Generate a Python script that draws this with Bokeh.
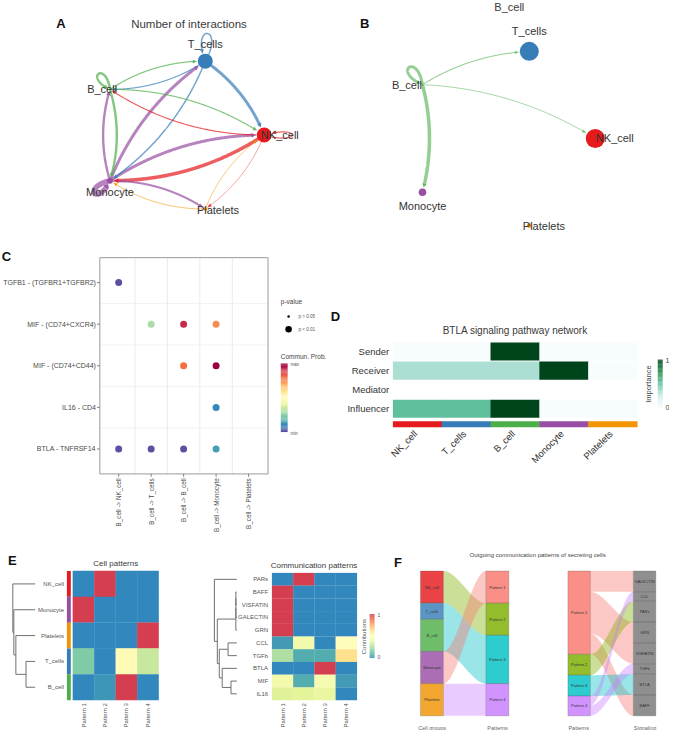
import numpy as np
from bokeh.plotting import figure
from bokeh.models import Range1d, LinearColorMapper, ColumnDataSource
from bokeh.core.properties import value
from bokeh.embed import file_html
from bokeh.resources import INLINE

# ============================ DATA ============================
cells = ["NK_cell", "T_cells", "B_cell", "Monocyte", "Platelets"]
cell_colors = ["#E41A1C", "#377EB8", "#4DAF4A", "#984EA3", "#F29403"]
cell_sizes = [100, 100, 12, 40, 25]

# Panel A - number of interactions (source -> target)
netA_source = ["NK_cell", "NK_cell", "NK_cell", "NK_cell",
               "T_cells", "T_cells", "T_cells", "T_cells",
               "B_cell", "B_cell", "B_cell", "B_cell",
               "Monocyte", "Monocyte", "Monocyte", "Monocyte", "Monocyte",
               "Platelets", "Platelets"]
netA_target = ["NK_cell", "B_cell", "Monocyte", "Platelets",
               "NK_cell", "T_cells", "B_cell", "Monocyte",
               "NK_cell", "T_cells", "B_cell", "Monocyte",
               "NK_cell", "T_cells", "B_cell", "Monocyte", "Platelets",
               "NK_cell", "Monocyte"]
netA_count = [2, 2, 6, 1,
              5, 2.5, 2, 2.5,
              2, 2, 4, 4,
              5, 5, 4, 9, 3.5,
              1.3, 1.5]

# Panel B - B_cell outgoing signaling
netB_source = ["B_cell", "B_cell", "B_cell", "B_cell"]
netB_target = ["T_cells", "NK_cell", "B_cell", "Monocyte"]
netB_strength = [0.3, 0.25, 0.85, 1.0]

# Panel C - bubble plot
lr_pairs = ["TGFB1 - (TGFBR1+TGFBR2)", "MIF - (CD74+CXCR4)", "MIF - (CD74+CD44)",
            "IL16 - CD4", "BTLA - TNFRSF14"]
cell_pairs = ["B_cell -> NK_cell", "B_cell -> T_cells", "B_cell -> B_cell",
              "B_cell -> Monocyte", "B_cell -> Platelets"]
dot_lr = ["TGFB1 - (TGFBR1+TGFBR2)", "MIF - (CD74+CXCR4)", "MIF - (CD74+CXCR4)",
          "MIF - (CD74+CXCR4)", "MIF - (CD74+CD44)", "MIF - (CD74+CD44)", "IL16 - CD4",
          "BTLA - TNFRSF14", "BTLA - TNFRSF14", "BTLA - TNFRSF14", "BTLA - TNFRSF14"]
dot_pair = ["B_cell -> NK_cell", "B_cell -> T_cells", "B_cell -> B_cell",
            "B_cell -> Monocyte", "B_cell -> B_cell", "B_cell -> Monocyte", "B_cell -> Monocyte",
            "B_cell -> NK_cell", "B_cell -> T_cells", "B_cell -> B_cell", "B_cell -> Monocyte"]
dot_prob = [0.0, 0.3, 0.93, 0.75, 0.8, 1.0, 0.1, 0.0, 0.0, 0.0, 0.14]

# Panel D - signaling roles (BTLA)
roles = ["Sender", "Receiver", "Mediator", "Influencer"]
sender_imp = [0.0, 0.0, 1.0, 0.0, 0.0]
receiver_imp = [0.33, 0.33, 0.33, 1.0, 0.0]
mediator_imp = [float("nan")] * 5
influencer_imp = [0.52, 0.52, 1.0, 0.0, 0.0]

# Panel E - patterns
pattern_names = ["Pattern 1", "Pattern 2", "Pattern 3", "Pattern 4"]
cellpat_rows = ["NK_cell", "Monocyte", "Platelets", "T_cells", "B_cell"]
cellpat_values = [[0.0, 1.0, 0.0, 0.0],
                  [1.0, 0.0, 0.0, 0.0],
                  [0.0, 0.0, 0.0, 1.0],
                  [0.17, 0.0, 0.52, 0.31],
                  [0.0, 0.03, 1.0, 0.0]]
cellpat_dendro = [(3, 4, 0.36), (2, 5, 0.76), (1, 6, 0.84), (0, 7, 0.88)]
commpat_rows = ["PARs", "BAFF", "VISFATIN", "GALECTIN", "GRN", "CCL", "TGFb", "BTLA", "MIF", "IL16"]
commpat_values = [[0.0, 1.0, 0.0, 0.0],
                  [1.0, 0.0, 0.0, 0.0],
                  [1.0, 0.0, 0.0, 0.0],
                  [1.0, 0.0, 0.0, 0.0],
                  [1.0, 0.0, 0.0, 0.0],
                  [0.04, 0.44, 0.0, 0.51],
                  [0.26, 0.08, 0.08, 0.62],
                  [0.0, 0.0, 1.0, 0.0],
                  [0.44, 0.08, 0.45, 0.04],
                  [0.36, 0.37, 0.4, 0.0]]
commpat_dendro = [(1, 2, 0.04), (10, 3, 0.04), (11, 4, 0.04), (8, 9, 0.24), (5, 6, 0.36),
                  (7, 13, 0.6), (14, 15, 0.72), (12, 16, 0.8), (0, 17, 0.92)]

# Panel F - river plots
pattern_colors = ["#F8766D", "#7CAE00", "#00BFC4", "#C77CFF"]
riverL_src = ["NK_cell", "T_cells", "B_cell", "Monocyte", "Platelets"]
riverL_tgt = ["Pattern 2", "Pattern 3", "Pattern 3", "Pattern 1", "Pattern 4"]
riverL_w = [1.0, 0.5, 1.0, 1.0, 1.0]
signaling = ["GALECTIN", "CCL", "PARs", "GRN", "VISFATIN", "TGFb", "BTLA", "BAFF"]
riverR_src = ["Pattern 1", "Pattern 1", "Pattern 1", "Pattern 1", "Pattern 2",
              "Pattern 3", "Pattern 4", "Pattern 4"]
riverR_tgt = ["GALECTIN", "GRN", "VISFATIN", "BAFF", "PARs", "BTLA", "CCL", "TGFb"]
riverR_w = [1.0, 1.0, 1.0, 1.0, 1.0, 1.0, 0.45, 0.5]

# ============================ SETUP ============================
FONT = "Liberation Sans"
TXT = "#444444"
W, H = 685, 746
p = figure(width=669, height=730, x_range=Range1d(0, W), y_range=Range1d(H, 0),
           x_axis_location=None, y_axis_location=None, output_backend="svg",
           toolbar_location=None, min_border=0)
p.grid.visible = False
p.outline_line_color = None
p.background_fill_color = "white"
p.border_fill_color = "white"


def label(x, y, s, size, color=TXT, align="center", baseline="middle", angle=0.0, bold=False):
    p.text(x=[x], y=[y], text=[s], angle=angle, text_font=value(FONT),
           text_font_size=f"{size}px", text_color=color, text_align=align,
           text_baseline=baseline, text_font_style="bold" if bold else "normal")


def interp_palette(stops, n=256):
    cols = np.array([[int(s[i:i + 2], 16) for i in (1, 3, 5)] for s in stops], float)
    pos = np.linspace(0, 1, len(stops))
    out = []
    for tt in np.linspace(0, 1, n):
        rgb = [int(round(np.interp(tt, pos, cols[:, k]))) for k in range(3)]
        out.append("#%02x%02x%02x" % tuple(rgb))
    return out


spectral9 = ["#3288BD", "#66C2A5", "#ABDDA4", "#E6F598", "#FFFFBF", "#FEE08B", "#FDAE61", "#F46D43", "#D53E4F"]
spectral11 = ["#5E4FA2", "#3288BD", "#66C2A5", "#ABDDA4", "#E6F598", "#FFFFBF", "#FEE08B",
              "#FDAE61", "#F46D43", "#D53E4F", "#9E0142"]
bugn = ["#F7FCFD", "#E5F5F9", "#CCECE6", "#99D8C9", "#66C2A4", "#41AE76", "#238B45", "#006D2C", "#00441B"]
map_E = LinearColorMapper(palette=interp_palette(spectral9), low=0, high=1)
map_C = LinearColorMapper(palette=interp_palette(spectral11), low=0, high=1)
map_D = LinearColorMapper(palette=interp_palette(bugn), low=0, high=1, nan_color="#FFFFFF")


def colorbar(x0, x1, ytop, ybot, mapper, n=60):
    v = np.linspace(0, 1, n)
    hh = (ybot - ytop) / n
    ys = ybot - (np.arange(n) + 0.5) * hh
    src = ColumnDataSource(dict(x=[(x0 + x1) / 2] * n, y=ys, v=v))
    p.rect(x="x", y="y", width=x1 - x0, height=hh * 1.05, source=src,
           fill_color=dict(field="v", transform=mapper), line_color=None)


# ============================ NETWORKS (A, B) ============================
angles = {c: np.deg2rad(72 * i) for i, c in enumerate(cells)}


def bez_q(P, Q, k, n=240):
    d = Q - P
    C = (P + Q) / 2 + k * np.array([d[1], -d[0]])
    t = np.linspace(0, 1, n)[:, None]
    return (1 - t) ** 2 * P + 2 * (1 - t) * t * C + t ** 2 * Q


def bez_loop(P, u, L, a, n=240):
    def rot(v, th):
        return np.array([v[0] * np.cos(th) - v[1] * np.sin(th), v[0] * np.sin(th) + v[1] * np.cos(th)])
    c1 = P + L * rot(u, a)
    c2 = P + L * rot(u, -a)
    t = np.linspace(0, 1, n)[:, None]
    return (1 - t) ** 3 * P + 3 * (1 - t) ** 2 * t * c1 + 3 * (1 - t) * t ** 2 * c2 + t ** 3 * P


def draw_network(src, tgt, wts, cx, cy, sx, sy, size_max, wscale, k, loops, alen, aw, offs, alpha):
    pos = {c: np.array([cx + sx * np.cos(angles[c]), cy - sy * np.sin(angles[c])]) for c in cells}
    mx = max(cell_sizes)
    diam = {c: max(2.0, size_max * s / mx) for c, s in zip(cells, cell_sizes)}
    xs, ys, cols, lws, axs, ays, acols = [], [], [], [], [], [], []
    order = np.argsort(wts)[::-1]
    for i in order:
        s, t, w = src[i], tgt[i], wts[i]
        col = cell_colors[cells.index(s)]
        lw = w * wscale
        P, Q = pos[s], pos[t]
        if s == t:
            L, a, tilt = loops[s]
            base_ang = angles[s] + tilt
            u = np.array([np.cos(base_ang) * sx, -np.sin(base_ang) * sy])
            u = u / np.hypot(*u)
            pts = bez_loop(P, u, L, a)
        else:
            pts = bez_q(P, Q, k)
        dS = np.hypot(*(pts - P).T)
        dT = np.hypot(*(pts - Q).T)
        rs, rt = diam[s] / 2 + 0.5, diam[t] / 2 + 0.5
        idx = np.arange(len(pts))
        half = len(pts) // 2
        m_tip = (dT >= rt) & (idx > half)
        i_tip = idx[m_tip][-1] if np.any(m_tip) else len(pts) - 1
        mask_b = (dT >= rt + alen) & (idx > half // 2)
        i_base = idx[mask_b][-1] if np.any(mask_b) else i_tip - 3
        keep = ((dS >= rs) | (idx > half)) & (idx <= i_base)
        xs.append(list(pts[keep, 0]))
        ys.append(list(pts[keep, 1]))
        cols.append(col)
        lws.append(lw)
        tip, base = pts[i_tip], pts[i_base]
        dvec = tip - base
        dvec = dvec / (np.hypot(*dvec) + 1e-9)
        perp = np.array([-dvec[1], dvec[0]])
        a_w = aw + lw * 0.5
        tri = [tip, base + perp * a_w / 2, base - perp * a_w / 2]
        axs.append([q[0] for q in tri])
        ays.append([q[1] for q in tri])
        acols.append(col)
    p.multi_line(xs="xs", ys="ys", line_color="c", line_width="w", line_alpha=alpha,
                 line_cap="round", source=ColumnDataSource(dict(xs=xs, ys=ys, c=cols, w=lws)))
    p.patches(xs="xs", ys="ys", fill_color="c", fill_alpha=min(1, alpha + 0.15), line_color=None,
              source=ColumnDataSource(dict(xs=axs, ys=ays, c=acols)))
    p.scatter(x=[pos[c][0] for c in cells], y=[pos[c][1] for c in cells],
              size=[diam[c] for c in cells], fill_color=cell_colors, line_color=None)
    for c in cells:
        label(pos[c][0] + offs[c][0], pos[c][1] + offs[c][1], c, 11, color="#333333")


# Panel A
label(62, 23, "A", 13, color="#111111", bold=True)
label(193, 24, "Number of interactions", 11.5, color="#3a3a3a")
draw_network(netA_source, netA_target, netA_count, 182.7, 137.5, 87.3, 79.4, 15, 0.6, 0.15,
             {"NK_cell": (40, 0.28, 0.0), "T_cells": (42, 0.45, 0.25), "B_cell": (30, 0.5, -0.35),
              "Monocyte": (30, 0.45, 0.1), "Platelets": (20, 0.5, 0.0)},
             4.5, 3.2,
             {"NK_cell": (16, 0), "T_cells": (0, -18), "B_cell": (-8, 0), "Monocyte": (0, 12), "Platelets": (13, 1)},
             0.7)

# Panel B
label(373, 23, "B", 13, color="#111111", bold=True)
label(521, 7, "B_cell", 11, color="#3a3a3a")
draw_network(netB_source, netB_target, netB_strength, 511.2, 141, 97.8, 93.6, 19, 3.5, 0.13,
             {"NK_cell": (30, 0.5, 0.0), "T_cells": (30, 0.5, 0.0), "B_cell": (34, 0.5, -0.3),
              "Monocyte": (24, 0.5, 0.0), "Platelets": (20, 0.5, 0.0)},
             4.5, 2.6,
             {"NK_cell": (20, 0), "T_cells": (0, -21), "B_cell": (-16, 0), "Monocyte": (0, 14), "Platelets": (15, 0)},
             0.6)

# ============================ PANEL C ============================
label(6, 262, "C", 13, color="#111111", bold=True)
cx0, cdx = 121.0, 33.25
cy0, cdy = 288.3, 42.5
bx0, bx1 = cx0 - 0.58 * cdx, cx0 + (len(cell_pairs) - 1 + 0.6) * cdx
by0, by1 = cy0 - 0.6 * cdy, cy0 + (len(lr_pairs) - 1 + 0.6) * cdy
gxs = [[cx0 + (i + 0.5) * cdx] * 2 for i in range(len(cell_pairs) - 1)]
p.multi_line(xs=gxs, ys=[[by0, by1]] * len(gxs), line_color="#E3E3E3", line_width=0.7)
gys = [[cy0 + (j + 0.5) * cdy] * 2 for j in range(len(lr_pairs) - 1)]
p.multi_line(xs=[[bx0, bx1]] * len(gys), ys=gys, line_color="#ECECEC", line_width=0.7)
p.quad(left=[bx0], right=[bx1], top=[by0], bottom=[by1], fill_color=None, line_color="#9A9A9A", line_width=1)
p.multi_line(xs=[[bx0 - 3, bx0]] * len(lr_pairs), ys=[[cy0 + j * cdy] * 2 for j in range(len(lr_pairs))],
             line_color="#555555", line_width=0.7)
p.multi_line(xs=[[cx0 + i * cdx] * 2 for i in range(len(cell_pairs))], ys=[[by1, by1 + 3]] * len(cell_pairs),
             line_color="#555555", line_width=0.7)
for j, lr in enumerate(lr_pairs):
    label(bx0 - 4, cy0 + j * cdy, lr, 7, color="#4a4a4a", align="right")
for i, cp in enumerate(cell_pairs):
    label(cx0 + i * cdx, by1 + 4.5, cp, 6.3, color="#4a4a4a", align="right", angle=np.pi / 2)
dsrc = ColumnDataSource(dict(
    x=[cx0 + cell_pairs.index(c) * cdx for c in dot_pair],
    y=[cy0 + lr_pairs.index(l) * cdy for l in dot_lr],
    v=dot_prob))
p.scatter(x="x", y="y", size=7, source=dsrc, fill_color=dict(field="v", transform=map_C), line_color=None)
label(287, 308, "p-value", 6.5, color="#444444", align="left")
p.scatter(x=[295, 295], y=[323, 336], size=[2.5, 6.5], fill_color="black", line_color=None)
label(305, 323, "p > 0.05", 4.6, color="#555555", align="left")
label(305, 336, "p < 0.01", 4.6, color="#555555", align="left")
label(287, 364, "Commun. Prob.", 6.5, color="#444444", align="left")
colorbar(287, 294, 371, 441, map_C)
label(297, 372, "max", 4.5, color="#555555", align="left")
label(297, 442, "min", 4.5, color="#555555", align="left")

# ============================ PANEL D ============================
label(343, 323, "D", 13, color="#111111", bold=True)
label(527, 337, "BTLA signaling pathway network", 10, color="#3a3a3a")
dx0, ddx, dy0, ddy = 402.0, 50.0, 349.0, 19.5
role_vals = [sender_imp, receiver_imp, mediator_imp, influencer_imp]
hx, hy, hv = [], [], []
for j, row in enumerate(role_vals):
    for i, v in enumerate(row):
        hx.append(dx0 + (i + 0.5) * ddx)
        hy.append(dy0 + (j + 0.5) * ddy)
        hv.append(v)
p.rect(x="x", y="y", width=ddx * 1.01, height=ddy - 1.0, source=ColumnDataSource(dict(x=hx, y=hy, v=hv)),
       fill_color=dict(field="v", transform=map_D), line_color=None)
for j, r in enumerate(roles):
    label(dx0 - 4, dy0 + (j + 0.5) * ddy, r, 9.5, color="#333333", align="right")
p.rect(x=[dx0 + (i + 0.5) * ddx for i in range(len(cells))], y=[433] * len(cells), width=ddx * 1.01, height=6,
       fill_color=cell_colors, line_color=None)
for i, c in enumerate(cells):
    label(dx0 + (i + 0.5) * ddx - 2, 441, c, 9.5, color="#333333", align="right", angle=np.pi / 4)
colorbar(673, 678, 367, 417, map_D)
label(681, 368, "1", 7, color="#444444", align="left")
label(681, 416, "0", 7, color="#444444", align="left")
label(664, 392, "Importance", 7.5, color="#444444", angle=np.pi / 2)

# ============================ PANEL E ============================
label(12, 572, "E", 13, color="#111111", bold=True)


def heat(x0, y0, cw, rh, rows, vals):
    hx, hy, hv = [], [], []
    for j, row in enumerate(vals):
        for i, v in enumerate(row):
            hx.append(x0 + (i + 0.5) * cw)
            hy.append(y0 + (j + 0.5) * rh)
            hv.append(v)
    p.rect(x="x", y="y", width=cw * 1.01, height=rh * 1.01, source=ColumnDataSource(dict(x=hx, y=hy, v=hv)),
           fill_color=dict(field="v", transform=map_E), line_color=None)
    for i, pn in enumerate(pattern_names):
        label(x0 + (i + 0.5) * cw, y0 + len(rows) * rh + 3, pn, 6, color="#555555", align="right", angle=np.pi / 2)


def dendro(rows, merges, y0, rh, x_leaf, x_min, color="#707070"):
    n = len(rows)
    nx = {i: x_leaf for i in range(n)}
    ny = {i: y0 + (i + 0.5) * rh for i in range(n)}
    segx, segy = [], []
    for m, (a, b, h) in enumerate(merges):
        xm = x_leaf - h * (x_leaf - x_min)
        segx += [[xm, xm], [nx[a], xm], [nx[b], xm]]
        segy += [[ny[a], ny[b]], [ny[a], ny[a]], [ny[b], ny[b]]]
        nx[n + m] = xm
        ny[n + m] = (ny[a] + ny[b]) / 2
    p.multi_line(xs=segx, ys=segy, line_color=color, line_width=1)


label(118, 575, "Cell patterns", 8, color="#3a3a3a")
heat(74, 583, 22, 26.4, cellpat_rows, cellpat_values)
for j, r in enumerate(cellpat_rows):
    label(65, 583 + (j + 0.5) * 26.4, r, 6, color="#555555", align="right")
p.rect(x=[70] * len(cellpat_rows), y=[583 + (j + 0.5) * 26.4 for j in range(len(cellpat_rows))],
       width=4, height=26.4, fill_color=[cell_colors[cells.index(r)] for r in cellpat_rows], line_color=None)
dendro(cellpat_rows, cellpat_dendro, 583, 26.4, 35.5, 9.5)

label(321, 577, "Communication patterns", 8, color="#3a3a3a")
heat(278, 585, 21.75, 13, commpat_rows, commpat_values)
for j, r in enumerate(commpat_rows):
    label(274, 585 + (j + 0.5) * 13, r, 6, color="#555555", align="right")
dendro(commpat_rows, commpat_dendro, 585, 13, 242, 217)
colorbar(378, 383, 627, 672, map_E)
label(386, 628, "1", 5, color="#555555", align="left")
label(386, 671, "0", 5, color="#555555", align="left")
label(372, 650, "Contributions", 6, color="#555555", angle=np.pi / 2)

# ============================ PANEL F ============================
label(407, 574, "F", 13, color="#111111", bold=True)
label(550, 567, "Outgoing communication patterns of secreting cells", 6, color="#444444")


def river(left, right, f_src, f_tgt, f_w, xl, xr, wc, ytop, ybot, lcol, rcol, flow_from_right):
    tot = sum(f_w)
    sc = (ybot - ytop) / tot
    lsum = [sum(w for a, w in zip(f_src, f_w) if a == n) for n in left]
    rsum = [sum(w for b, w in zip(f_tgt, f_w) if b == n) for n in right]
    lstart = ytop + sc * np.concatenate([[0], np.cumsum(lsum)[:-1]])
    rstart = ytop + sc * np.concatenate([[0], np.cumsum(rsum)[:-1]])
    nf = len(f_w)
    lseg, rseg = [None] * nf, [None] * nf
    cur = {n: lstart[i] for i, n in enumerate(left)}
    for k in sorted(range(nf), key=lambda k: (left.index(f_src[k]), right.index(f_tgt[k]))):
        a = f_src[k]
        lseg[k] = (cur[a], cur[a] + f_w[k] * sc)
        cur[a] += f_w[k] * sc
    cur = {n: rstart[i] for i, n in enumerate(right)}
    for k in sorted(range(nf), key=lambda k: (right.index(f_tgt[k]), left.index(f_src[k]))):
        b = f_tgt[k]
        rseg[k] = (cur[b], cur[b] + f_w[k] * sc)
        cur[b] += f_w[k] * sc
    t = np.linspace(0, 1, 50)
    s = 3 * t ** 2 - 2 * t ** 3
    x = (xl + wc) + (xr - (xl + wc)) * t
    bxs, bys, bcs = [], [], []
    for k in range(nf):
        (a0, a1), (b0, b1) = lseg[k], rseg[k]
        top = a0 + (b0 - a0) * s
        bot = a1 + (b1 - a1) * s
        bxs.append(list(np.concatenate([x, x[::-1]])))
        bys.append(list(np.concatenate([top, bot[::-1]])))
        bcs.append(rcol[right.index(f_tgt[k])] if flow_from_right else lcol[left.index(f_src[k])])
    p.patches(xs="xs", ys="ys", fill_color="c", fill_alpha=0.4, line_color=None,
              source=ColumnDataSource(dict(xs=bxs, ys=bys, c=bcs)))
    p.quad(left=[xl] * len(left), right=[xl + wc] * len(left), top=list(lstart),
           bottom=list(lstart + sc * np.array(lsum)), fill_color=lcol, fill_alpha=0.82,
           line_color="#555555", line_alpha=0.5, line_width=0.5)
    p.quad(left=[xr] * len(right), right=[xr + wc] * len(right), top=list(rstart),
           bottom=list(rstart + sc * np.array(rsum)), fill_color=rcol, fill_alpha=0.82,
           line_color="#555555", line_alpha=0.5, line_width=0.5)
    for i, n in enumerate(left):
        label(xl + wc / 2, lstart[i] + sc * lsum[i] / 2, n, 4, color="#333333")
    for i, n in enumerate(right):
        label(xr + wc / 2, rstart[i] + sc * rsum[i] / 2, n, 4, color="#333333")


river(cells, pattern_names, riverL_src, riverL_tgt, riverL_w, 430, 497, 23.5, 583, 731,
      cell_colors, pattern_colors, True)
river(pattern_names, signaling, riverR_src, riverR_tgt, riverR_w, 581, 648, 23, 583, 731,
      pattern_colors, ["#767676"] * len(signaling), False)
label(442, 743, "Cell groups", 5.5, color="#666666")
label(509, 743, "Patterns", 5.5, color="#666666")
label(592, 743, "Patterns", 5.5, color="#666666")
label(660, 743, "Signaling", 5.5, color="#666666")

open("out.html", "w").write(file_html(p, INLINE))
